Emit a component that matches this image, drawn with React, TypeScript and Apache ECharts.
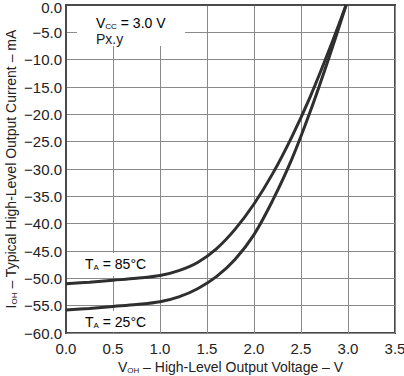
import React, { useEffect, useRef } from "react";
import * as echarts from "echarts";

const FONT = "'Liberation Sans', Arial, Helvetica, sans-serif";

// T_A = 85°C curve
const v85 = [0, 0.25, 0.5, 0.75, 1.0, 1.2, 1.4, 1.6, 1.8, 2.0, 2.2, 2.4, 2.6, 2.8, 2.98];
const i85 = [-51.0, -50.7, -50.35, -50.0, -49.5, -48.6, -47.1, -44.6, -41.0, -36.4, -30.8, -24.2, -16.7, -8.2, 0];

// T_A = 25°C curve
const v25 = [0, 0.25, 0.5, 0.75, 1.0, 1.2, 1.4, 1.6, 1.8, 2.0, 2.2, 2.4, 2.6, 2.8, 2.98];
const i25 = [-55.8, -55.5, -55.15, -54.8, -54.3, -53.4, -51.9, -49.7, -46.5, -42.0, -35.7, -28.3, -19.4, -9.5, 0];

const xMin = 0, xMax = 3.5, xStep = 0.5;
const yMin = -60, yMax = 0, yStep = 5;

const texts = {
  vcc: "{n|V}{s|CC}{n| = 3.0 V}",
  px: "Px.y",
  t85: "{n|T}{s|A}{n| = 85°C}",
  t25: "{n|T}{s|A}{n| = 25°C}",
  xName: "{n|V}{s|OH}{n| – High-Level Output Voltage – V}",
  yName: "{n|I}{s|OH}{n| – Typical High-Level Output Current – mA}",
};

const pairs = (xs: number[], ys: number[]) => xs.map((x, i) => [x, ys[i]]);

const richMain = (size: number) => ({
  n: { fontSize: size, fontFamily: FONT, color: "#222" },
  s: { fontSize: 8, fontFamily: FONT, color: "#222", padding: [6, 0, 0, 0] },
});

export default function App() {
  const ref = useRef<HTMLDivElement>(null);
  useEffect(() => {
    if (!ref.current) return;
    const chart = echarts.init(ref.current, undefined, { renderer: "svg" });
    const lineStyle = { color: "#2f2f2f", width: 3 };
    chart.setOption({
      animation: false,
      backgroundColor: "#fff",
      grid: {
        left: 66,
        top: 5,
        width: 329,
        height: 328,
        containLabel: false,
        outerBoundsMode: "none",
        show: true,
        borderColor: "#4a4a4a",
        borderWidth: 2,
        backgroundColor: "transparent",
      },
      xAxis: {
        type: "value",
        min: xMin,
        max: xMax,
        interval: xStep,
        name: texts.xName,
        nameLocation: "middle",
        nameGap: 27,
        nameMoveOverlap: false,
        nameTextStyle: { rich: richMain(14) },
        axisLine: { show: true, lineStyle: { color: "#4a4a4a", width: 2 } },
        axisTick: { show: false },
        axisLabel: {
          fontSize: 15,
          fontFamily: FONT,
          color: "#222",
          margin: 8,
          formatter: (v: number) => v.toFixed(1),
        },
        splitLine: { show: true, lineStyle: { color: "#8a8a8a", width: 1 } },
      },
      yAxis: {
        type: "value",
        min: yMin,
        max: yMax,
        interval: yStep,
        name: texts.yName,
        nameLocation: "middle",
        nameGap: 48,
        nameMoveOverlap: false,
        nameTextStyle: { rich: richMain(14) },
        axisLine: { show: true, lineStyle: { color: "#4a4a4a", width: 2 } },
        axisTick: { show: false },
        axisLabel: {
          fontSize: 15,
          fontFamily: FONT,
          color: "#222",
          margin: 4,
          formatter: (v: number) =>
            v < 0 ? "−" + Math.abs(v).toFixed(1) : "{t|" + v.toFixed(1) + "}",
          rich: { t: { fontSize: 15, fontFamily: FONT, color: "#222", padding: [4, 0, 0, 0] } },
        },
        splitLine: { show: true, lineStyle: { color: "#8a8a8a", width: 1 } },
      },
      graphic: [
        { type: "rect", z: 50, shape: { x: 77, y: 6, width: 108, height: 40 }, style: { fill: "#fff" } },
        {
          type: "text",
          z: 51,
          x: 96,
          y: 23,
          style: { text: texts.vcc, rich: richMain(14), verticalAlign: "middle" },
        },
        {
          type: "text",
          z: 51,
          x: 96,
          y: 39,
          style: { text: texts.px, fontSize: 14, fontFamily: FONT, fill: "#222", verticalAlign: "middle" },
        },
        { type: "rect", z: 50, shape: { x: 67, y: 253, width: 88, height: 23 }, style: { fill: "#fff" } },
        {
          type: "text",
          z: 51,
          x: 85,
          y: 264,
          style: { text: texts.t85, rich: richMain(14), verticalAlign: "middle" },
        },
        { type: "rect", z: 50, shape: { x: 67, y: 311, width: 88, height: 21 }, style: { fill: "#fff" } },
        {
          type: "text",
          z: 51,
          x: 85,
          y: 322,
          style: { text: texts.t25, rich: richMain(14), verticalAlign: "middle" },
        },
      ],
      series: [
        {
          type: "line",
          name: "85",
          data: pairs(v85, i85),
          smooth: 0.35,
          showSymbol: false,
          z: 60,
          lineStyle,
        },
        {
          type: "line",
          name: "25",
          data: pairs(v25, i25),
          smooth: 0.35,
          showSymbol: false,
          z: 60,
          lineStyle,
        },
      ],
    });
    return () => chart.dispose();
  }, []);
  return (
    <div
      ref={ref}
      style={{ position: "fixed", left: 0, top: 0, width: 404, height: 376, background: "#fff" }}
    />
  );
}
